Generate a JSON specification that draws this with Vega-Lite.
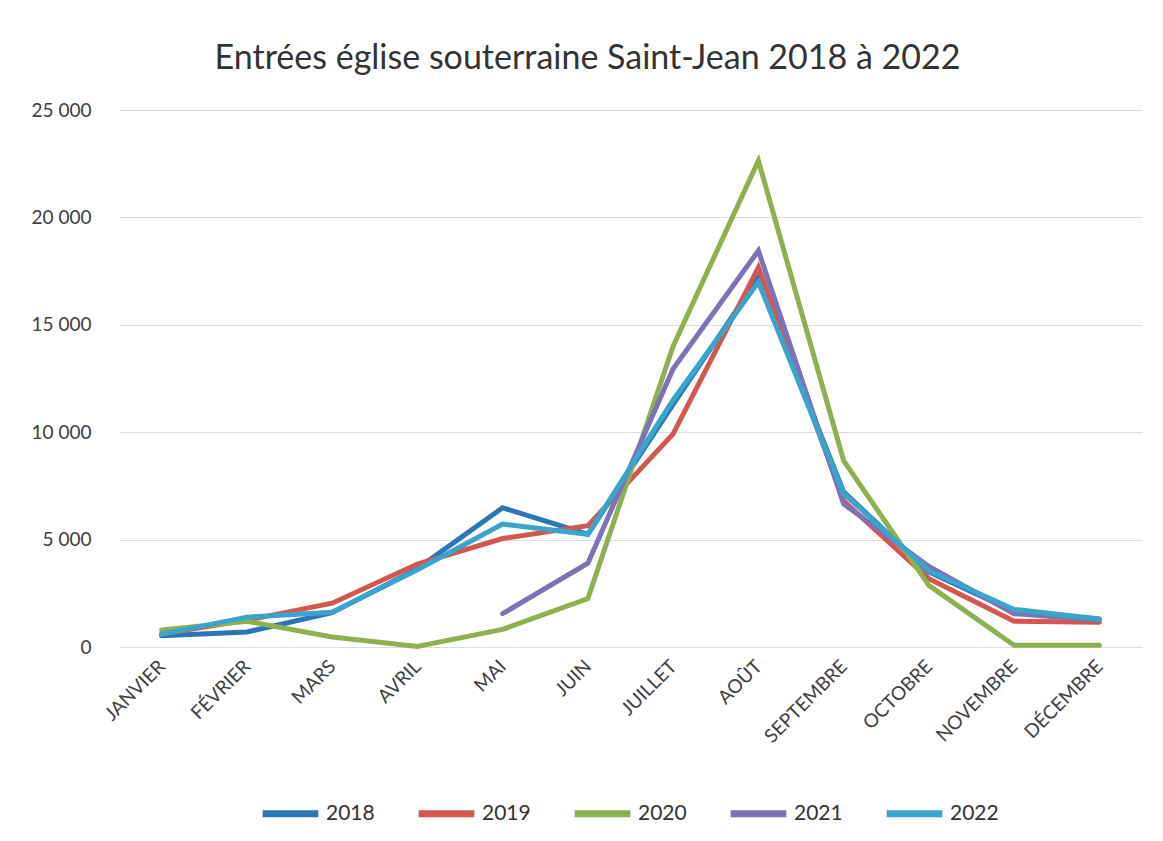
{
  "$schema": "https://vega.github.io/schema/vega-lite/v6.json",
  "width": 1023,
  "height": 537,
  "padding": {"left": 31, "top": 42, "right": 10, "bottom": 0},
  "background": "white",
  "config": {
    "view": {"stroke": null},
    "font": "Lato"
  },
  "title": {
    "text": "Entrées église souterraine Saint-Jean 2018 à 2022",
    "fontSize": 34,
    "font": "Lato",
    "fontWeight": "normal",
    "color": "#333333",
    "anchor": "middle",
    "dx": -43,
    "offset": 25
  },
  "data": {
    "values": [
      {"mois": "JANVIER", "annee": "2018", "entrees": 520},
      {"mois": "FÉVRIER", "annee": "2018", "entrees": 700},
      {"mois": "MARS", "annee": "2018", "entrees": 1600},
      {"mois": "AVRIL", "annee": "2018", "entrees": 3650},
      {"mois": "MAI", "annee": "2018", "entrees": 6480},
      {"mois": "JUIN", "annee": "2018", "entrees": 5250},
      {"mois": "JUILLET", "annee": "2018", "entrees": 11300},
      {"mois": "AOÛT", "annee": "2018", "entrees": 17200},
      {"mois": "SEPTEMBRE", "annee": "2018", "entrees": 7220},
      {"mois": "OCTOBRE", "annee": "2018", "entrees": 3500},
      {"mois": "NOVEMBRE", "annee": "2018", "entrees": 1650},
      {"mois": "DÉCEMBRE", "annee": "2018", "entrees": 1300},
      {"mois": "JANVIER", "annee": "2019", "entrees": 600},
      {"mois": "FÉVRIER", "annee": "2019", "entrees": 1250},
      {"mois": "MARS", "annee": "2019", "entrees": 2040},
      {"mois": "AVRIL", "annee": "2019", "entrees": 3860},
      {"mois": "MAI", "annee": "2019", "entrees": 5050},
      {"mois": "JUIN", "annee": "2019", "entrees": 5650},
      {"mois": "JUILLET", "annee": "2019", "entrees": 9920},
      {"mois": "AOÛT", "annee": "2019", "entrees": 17670},
      {"mois": "SEPTEMBRE", "annee": "2019", "entrees": 6800},
      {"mois": "OCTOBRE", "annee": "2019", "entrees": 3180},
      {"mois": "NOVEMBRE", "annee": "2019", "entrees": 1200},
      {"mois": "DÉCEMBRE", "annee": "2019", "entrees": 1150},
      {"mois": "JANVIER", "annee": "2020", "entrees": 790},
      {"mois": "FÉVRIER", "annee": "2020", "entrees": 1200},
      {"mois": "MARS", "annee": "2020", "entrees": 470},
      {"mois": "AVRIL", "annee": "2020", "entrees": 20},
      {"mois": "MAI", "annee": "2020", "entrees": 820},
      {"mois": "JUIN", "annee": "2020", "entrees": 2250},
      {"mois": "JUILLET", "annee": "2020", "entrees": 14000},
      {"mois": "AOÛT", "annee": "2020", "entrees": 22640},
      {"mois": "SEPTEMBRE", "annee": "2020", "entrees": 8680},
      {"mois": "OCTOBRE", "annee": "2020", "entrees": 2870},
      {"mois": "NOVEMBRE", "annee": "2020", "entrees": 80},
      {"mois": "DÉCEMBRE", "annee": "2020", "entrees": 80},
      {"mois": "MAI", "annee": "2021", "entrees": 1550},
      {"mois": "JUIN", "annee": "2021", "entrees": 3900},
      {"mois": "JUILLET", "annee": "2021", "entrees": 12950},
      {"mois": "AOÛT", "annee": "2021", "entrees": 18450},
      {"mois": "SEPTEMBRE", "annee": "2021", "entrees": 6660},
      {"mois": "OCTOBRE", "annee": "2021", "entrees": 3750},
      {"mois": "NOVEMBRE", "annee": "2021", "entrees": 1550},
      {"mois": "DÉCEMBRE", "annee": "2021", "entrees": 1250},
      {"mois": "JANVIER", "annee": "2022", "entrees": 600},
      {"mois": "FÉVRIER", "annee": "2022", "entrees": 1390},
      {"mois": "MARS", "annee": "2022", "entrees": 1620},
      {"mois": "AVRIL", "annee": "2022", "entrees": 3600},
      {"mois": "MAI", "annee": "2022", "entrees": 5720},
      {"mois": "JUIN", "annee": "2022", "entrees": 5250},
      {"mois": "JUILLET", "annee": "2022", "entrees": 11500},
      {"mois": "AOÛT", "annee": "2022", "entrees": 16990},
      {"mois": "SEPTEMBRE", "annee": "2022", "entrees": 7150},
      {"mois": "OCTOBRE", "annee": "2022", "entrees": 3550},
      {"mois": "NOVEMBRE", "annee": "2022", "entrees": 1750},
      {"mois": "DÉCEMBRE", "annee": "2022", "entrees": 1300}
    ]
  },
  "mark": {"type": "line", "strokeWidth": 5, "strokeCap": "round", "strokeJoin": "miter"},
  "encoding": {
    "x": {
      "field": "mois",
      "type": "ordinal",
      "sort": ["JANVIER", "FÉVRIER", "MARS", "AVRIL", "MAI", "JUIN", "JUILLET", "AOÛT", "SEPTEMBRE", "OCTOBRE", "NOVEMBRE", "DÉCEMBRE"],
      "scale": {"type": "point", "padding": 0.5},
      "axis": {
        "title": null,
        "labelAngle": -45,
        "labelAlign": "right",
        "labelBaseline": "middle",
        "labelFontSize": 19,
        "labelColor": "#404040",
        "labelPadding": 16,
        "domain": false,
        "ticks": false,
        "grid": false
      }
    },
    "y": {
      "field": "entrees",
      "type": "quantitative",
      "scale": {"domain": [0, 25000]},
      "axis": {
        "title": null,
        "values": [0, 5000, 10000, 15000, 20000, 25000],
        "labelExpr": "replace(format(datum.value, ','), ',', ' ')",
        "labelFontSize": 19,
        "labelColor": "#404040",
        "labelPadding": 28,
        "domain": false,
        "ticks": false,
        "gridColor": "#dcdce6",
        "gridWidth": 1.2
      }
    },
    "color": {
      "field": "annee",
      "type": "nominal",
      "scale": {
        "domain": ["2018", "2019", "2020", "2021", "2022"],
        "range": ["#2c76b8", "#d4574f", "#8db14f", "#7d72b5", "#3aa5cb"]
      },
      "legend": {
        "title": null,
        "orient": "none",
        "legendX": 140,
        "legendY": 672,
        "direction": "horizontal",
        "symbolType": "stroke",
        "symbolSize": 3100,
        "symbolStrokeWidth": 7,
        "labelFontSize": 21,
        "labelColor": "#333333",
        "labelOffset": 4,
        "columnPadding": 29
      }
    }
  }
}
